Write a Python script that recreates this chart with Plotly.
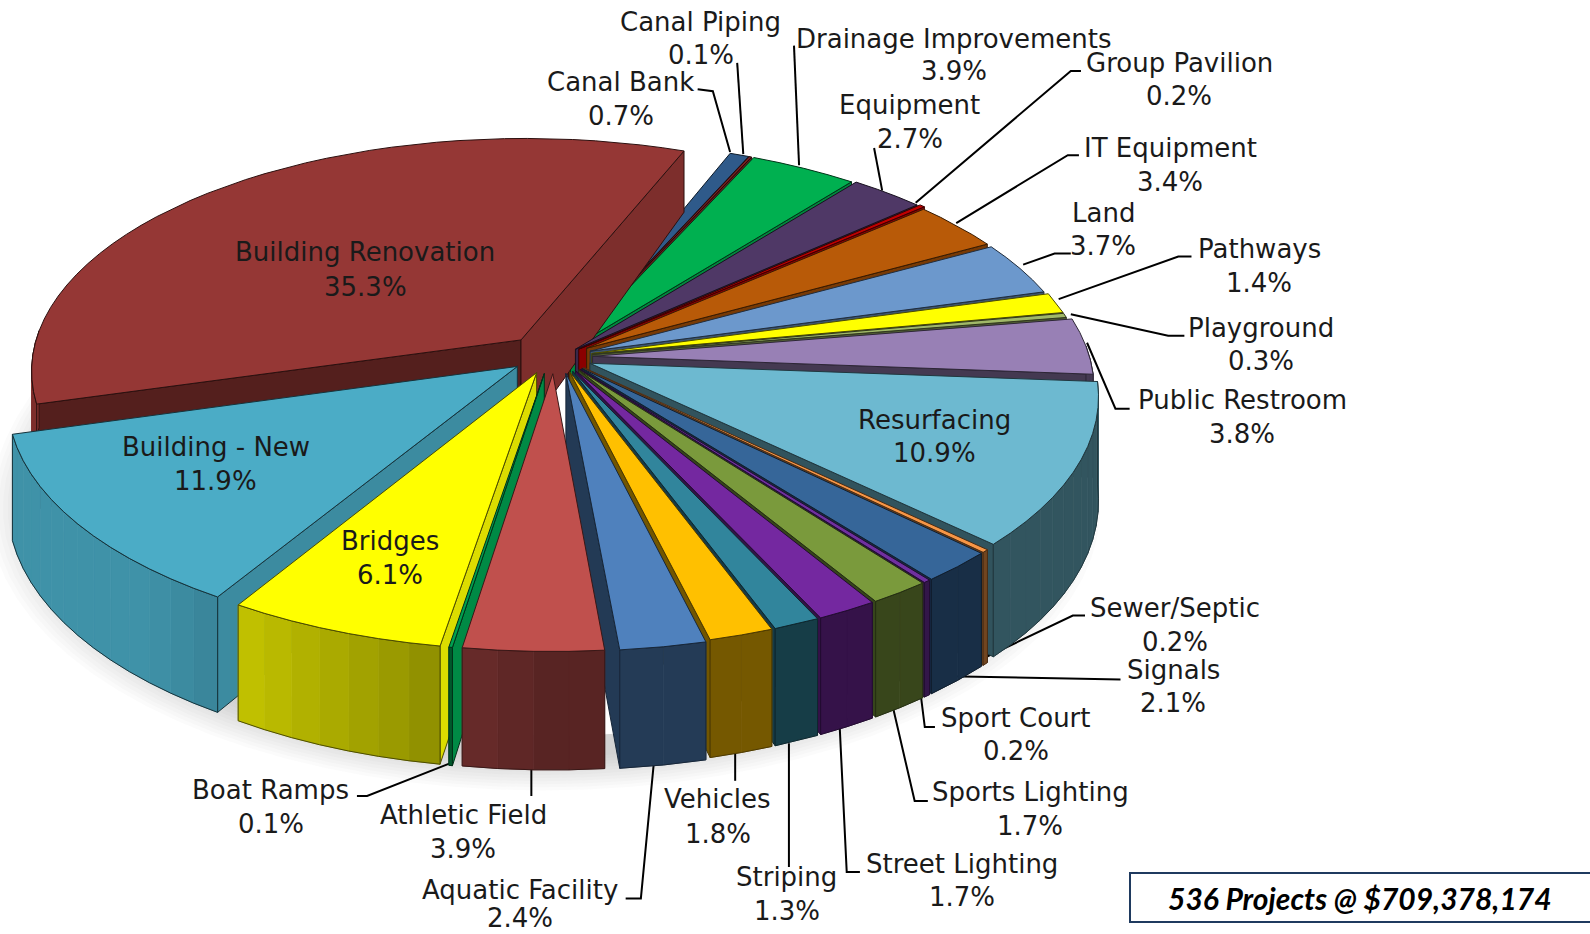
import math
import plotly.graph_objects as go

# ---------- data ----------
categories = ["Canal Piping","Drainage Improvements","Equipment","Group Pavilion","IT Equipment","Land",
              "Pathways","Playground","Public Restroom","Resurfacing","Sewer/Septic","Signals","Sport Court",
              "Sports Lighting","Street Lighting","Striping","Vehicles","Aquatic Facility","Athletic Field",
              "Boat Ramps","Bridges","Building - New","Building Renovation","Canal Bank"]
percent = [0.1,3.9,2.7,0.2,3.4,3.7,1.4,0.3,3.8,10.9,0.2,2.1,0.2,1.7,1.7,1.3,1.8,2.4,3.9,0.1,6.1,11.9,35.3,0.7]
summary = "536 Projects @ $709,378,174"

# ---------- styles ----------
colors = ["#7a2020","#00B050","#4F3866","#C00000","#B85A08","#6C98CC","#FFFF00","#A0B868","#9880B5","#6DB9D0",
          "#F79646","#366699","#7030A0","#7A9A3C","#7428A0","#31859C","#FFC000","#4F81BD","#C0504D","#00A050",
          "#FFFF00","#4BACC6","#953735","#2F5A8A"]
explode = [.04,.04,.045,.05,.065,.065,.065,.065,.065,.065,.065,.065,.065,.065,.065,.065,.065,.07,.07,.07,.07,.09,.09,.04]
radius  = [1,1,1,1,.975,.975,.98,.98,.99,1,1,1,1,1,1,1,1,1,1,1,1,1,.975,1]
nudge = {"Athletic Field":(-.012,0),"Boat Ramps":(-.02,0),"Bridges":(-.022,0),"Building - New":(-.013,.015),
         "Building Renovation":(-.018,.006)}
START_DEG = 24.0
CX, CY, W, A, H, F = 560, 357, 502, 237, 102, 7.7
SCALE = 1590 / 1568

# label centres (shrunk reference px): name y, value y
label_pos = {"Canal Piping":(691,22,54),"Drainage Improvements":(941,38,70),"Group Pavilion":(1163,62,95),
 "Equipment":(897,104,137),"Canal Bank":(612,81,114),"IT Equipment":(1154,146,179),"Land":(1088,210,243),
 "Pathways":(1242,246,279),"Playground":(1244,323,356),"Public Restroom":(1225,394,428),"Resurfacing":(922,414,447),
 "Sewer/Septic":(1159,600,633),"Signals":(1157,661,693),"Sport Court":(1002,708,741),"Sports Lighting":(1016,781,815),
 "Street Lighting":(949,852,885),"Striping":(776,865,898),"Vehicles":(708,788,822),"Aquatic Facility":(513,878,905),
 "Athletic Field":(457,804,837),"Boat Ramps":(267,779,813),"Bridges":(385,534,567),"Building - New":(213,441,474),
 "Building Renovation":(360,249,283)}
leaders = [[(727,62),(733,152)],[(783,45),(788,163)],[(1066,70),(1056,70),(903,200)],[(862,146),(870,188)],
 [(688,88),(703,90),(720,150)],[(1064,153),(1053,153),(943,220)],[(1056,250),(1040,250),(1009,261)],
 [(1175,253),(1162,253),(1044,295)],[(1168,331),(1152,331),(1056,310)],[(1114,403),(1100,403),(1072,338)],
 [(1070,607),(1058,607),(964,652)],[(1105,670),(935,667)],[(922,717),(912,717),(908,685)],
 [(915,790),(902,790),(880,695)],[(848,860),(835,860),(828,715)],[(778,855),(778,733)],[(725,770),(725,742)],
 [(617,886),(632,886),(645,750)],[(524,785),(524,757)],[(352,785),(362,785),(443,753)]]

# ---------- geometry helpers ----------
def project(X, Y, Z):
    s = F / (F + Y)
    depth = H * s * (1 - 0.33 * max(0.0, Y))   # the far walls look shallower
    return (CX + W * X * s, CY - A * Y * s - depth * Z)

def shade(hex_color, f):
    r, g, b = int(hex_color[1:3], 16), int(hex_color[3:5], 16), int(hex_color[5:7], 16)
    return "#%02x%02x%02x" % tuple(min(255, int(c * f)) for c in (r, g, b))

fig = go.Figure()

def poly(pts, fill, line=None, width=1.0):
    xs = [p[0] for p in pts] + [pts[0][0]]
    ys = [p[1] for p in pts] + [pts[0][1]]
    fig.add_trace(go.Scatter(x=xs, y=ys, mode="lines", fill="toself", fillcolor=fill,
                             line=dict(color=line or fill, width=width), hoverinfo="skip", showlegend=False))

# soft shadow, then white under the pie so that it only shows outside
circle = range(0, 360, 4)
for i in range(12):
    r = 1.09 - i * 0.009
    pts = [project(r * math.sin(math.radians(d)) - 0.03, r * math.cos(math.radians(d)) - 0.04, -1.0) for d in circle]
    poly(pts, "rgba(110,110,110,0.026)", "rgba(0,0,0,0)", 0)
poly([project(math.sin(math.radians(d)) * 1.0, math.cos(math.radians(d)) * 1.0, -0.9) for d in circle], "#ffffff")

# leader lines
for path in leaders:
    fig.add_trace(go.Scatter(x=[p[0] * SCALE for p in path], y=[p[1] * SCALE for p in path], mode="lines",
                             line=dict(color="#000000", width=2), hoverinfo="skip", showlegend=False))

# wedges, far first
total = sum(percent)
slices, cum = [], 0.0
for name, pct, col, ex, rad in zip(categories, percent, colors, explode, radius):
    a0 = START_DEG + cum / total * 360
    cum += pct
    a1 = START_DEG + cum / total * 360
    slices.append((name, a0, a1, col, ex, rad))

def order_key(s):
    mid = math.radians((s[1] + s[2]) / 2)
    return -math.cos(mid)

for name, a0, a1, col, ex, rad in sorted(slices, key=order_key):
    mid = math.radians((a0 + a1) / 2)
    nx0, ny0 = nudge.get(name, (0, 0))
    ox, oy = ex * math.sin(mid) + nx0, ex * math.cos(mid) + ny0
    def rim(deg):
        t = math.radians(deg)
        return (ox + rad * math.sin(t), oy + rad * math.cos(t))
    n = max(2, int((a1 - a0) / 3) + 1)
    degs = [a0 + (a1 - a0) * i / (n - 1) for i in range(n)]
    rims = [rim(d) for d in degs]
    edge = shade(col, 0.3)
    # radial faces facing the viewpoint
    for (d, sign) in ((a0, -1), (a1, 1)):
        t = math.radians(d)
        nx, ny = sign * math.cos(t), -sign * math.sin(t)
        rx, ry = rim(d)
        if nx * (0 - ox) + ny * (-F - oy) > 0:
            q = [project(ox, oy, 0), project(rx, ry, 0), project(rx, ry, -1), project(ox, oy, -1)]
            poly(q, shade(col, 0.45 + 0.42 * max(0, nx)), edge, 1)
    # outer wall with strip shading
    wall = []
    for i in range(n - 1):
        (x0, y0), (x1, y1) = rims[i], rims[i + 1]
        q = [project(x0, y0, 0), project(x1, y1, 0), project(x1, y1, -1), project(x0, y0, -1)]
        dm = math.radians((degs[i] + degs[i + 1]) / 2)
        if math.cos(dm) < 0.05:
            poly(q, shade(col, min(0.85, 0.46 + 0.6 * max(0, -math.sin(dm)))), None, 0.7)
            wall.append(i)
    if wall:
        i0, i1 = wall[0], wall[-1] + 1
        top = [project(*rims[i], 0) for i in range(i0, i1 + 1)]
        bot = [project(*rims[i], -1) for i in range(i1, i0 - 1, -1)]
        pts = top + bot + [top[0]]
        fig.add_trace(go.Scatter(x=[p[0] for p in pts], y=[p[1] for p in pts], mode="lines",
                                 line=dict(color=edge, width=1), hoverinfo="skip", showlegend=False))
    # top face
    poly([project(ox, oy, 0)] + [project(x, y, 0) for x, y in rims], col, edge, 1)

# labels
annotations = []
for name, pct in zip(categories, percent):
    x, y0, y1 = label_pos[name]
    for y, txt in ((y0, name), (y1, f"{pct:.1f}%")):
        annotations.append(dict(x=x * SCALE, y=y * SCALE, text=txt, showarrow=False, xref="x", yref="y",
                                xanchor="center", yanchor="middle",
                                font=dict(family="DejaVu Sans", size=26, color="#1a1a1a")))
annotations.append(dict(x=1341 * SCALE, y=886 * SCALE, text=f"<b><i>{summary}</i></b>", showarrow=False, xref="x", yref="y",
                        xanchor="center", yanchor="middle", font=dict(family="Lato", size=30, color="#000000")))

fig.update_layout(width=1590, height=934, margin=dict(l=0, r=0, t=0, b=0), paper_bgcolor="white", plot_bgcolor="white",
                  xaxis=dict(range=[0, 1590], visible=False, fixedrange=True),
                  yaxis=dict(range=[934, 0], visible=False, fixedrange=True),
                  annotations=annotations,
                  shapes=[dict(type="rect", xref="x", yref="y", x0=1130, y0=873, x1=1592, y1=922,
                               line=dict(color="#1F3A5F", width=2), fillcolor="white")])
fig.write_html("out.html", config={"displayModeBar": False},
               post_script="document.body.style.margin='0';document.documentElement.style.overflow='hidden';")
